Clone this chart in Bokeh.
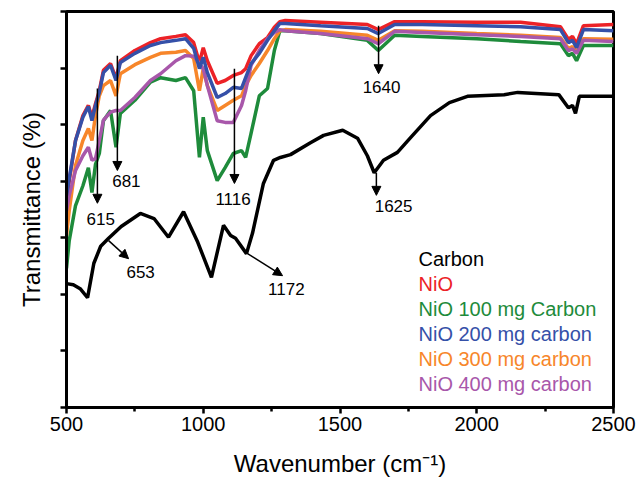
from bokeh.plotting import figure
from bokeh.models import Range1d, FixedTicker, Arrow, NormalHead, ColumnDataSource
from bokeh.core.properties import value
from bokeh.embed import file_html
from bokeh.resources import INLINE

# ---------------- data ----------------
wavenumber = [500, 510, 533, 560, 580, 593, 606, 620, 635, 661, 681, 697, 750, 807, 844,
              900, 935, 965, 986, 1000, 1015, 1051, 1080, 1110, 1140, 1155, 1175, 1205,
              1235, 1260, 1280, 1300, 1429, 1600, 1640, 1700, 1800, 2000, 2160, 2306,
              2335, 2350, 2365, 2390, 2500]

nio = [3.66, 4.01, 4.72, 5.16, 5.34, 5.13, 5.37, 5.60, 5.96, 6.08, 5.82, 6.13, 6.31, 6.45, 6.52,
       6.56, 6.59, 6.45, 6.10, 6.36, 6.13, 5.73, 5.78, 5.87, 5.92, 5.99, 6.22, 6.43,
       6.54, 6.72, 6.82, 6.84, 6.81, 6.77, 6.68, 6.82, 6.82, 6.81, 6.81, 6.73,
       6.51, 6.56, 6.43, 6.75, 6.77]

nio_100 = [2.46, 2.95, 3.57, 3.92, 4.24, 3.80, 4.30, 4.49, 5.07, 5.25, 4.60, 5.20, 5.43, 5.75, 5.83,
           5.78, 5.83, 5.60, 4.42, 5.13, 4.54, 4.01, 4.24, 4.49, 4.54, 4.42, 4.85, 5.51,
           5.64, 6.31, 6.66, 6.66, 6.61, 6.49, 6.31, 6.58, 6.56, 6.52, 6.47, 6.43,
           6.22, 6.26, 6.13, 6.40, 6.40]

nio_200 = [3.75, 4.05, 4.72, 5.13, 5.32, 5.07, 5.34, 5.57, 5.92, 6.05, 5.78, 6.10, 6.26, 6.40, 6.45,
           6.49, 6.52, 6.35, 5.99, 6.19, 5.92, 5.48, 5.55, 5.66, 5.64, 5.83, 6.08, 6.26,
           6.49, 6.66, 6.79, 6.79, 6.75, 6.70, 6.61, 6.77, 6.77, 6.75, 6.73, 6.68,
           6.45, 6.49, 6.36, 6.68, 6.66]

nio_300 = [3.04, 3.48, 4.28, 4.72, 4.93, 4.72, 5.16, 5.51, 5.69, 5.78, 5.51, 5.90, 6.06, 6.19, 6.26,
           6.28, 6.31, 6.17, 5.60, 5.99, 5.69, 5.25, 5.34, 5.43, 5.51, 5.69, 5.87, 6.08,
           6.31, 6.52, 6.66, 6.68, 6.65, 6.58, 6.49, 6.66, 6.65, 6.61, 6.58, 6.54,
           6.35, 6.38, 6.29, 6.52, 6.51]

nio_400 = [3.48, 3.75, 4.19, 4.45, 4.60, 4.37, 4.40, 4.72, 5.08, 5.22, 5.25, 5.25, 5.48, 5.78, 5.90,
           6.13, 6.22, 6.21, 6.08, 5.99, 5.69, 5.07, 5.04, 5.04, 5.34, 5.60, 6.05, 6.31,
           6.52, 6.63, 6.68, 6.66, 6.61, 6.52, 6.43, 6.65, 6.63, 6.59, 6.56, 6.52,
           6.31, 6.34, 6.26, 6.49, 6.47]

carbon_wn = [500, 525, 550, 577, 600, 625, 654, 700, 770, 820, 873, 928, 980, 1030, 1074,
             1100, 1118, 1158, 1180, 1220, 1257, 1282, 1319, 1392, 1440, 1510, 1564, 1600,
             1625, 1659, 1710, 1758, 1831, 1900, 1966, 2100, 2150, 2300, 2335, 2350, 2361,
             2375, 2500]
carbon = [2.19, 2.17, 2.10, 1.94, 2.55, 2.85, 2.99, 3.20, 3.43, 3.34, 3.01, 3.46, 2.92, 2.30, 3.22,
          3.04, 2.99, 2.72, 3.08, 3.96, 4.37, 4.42, 4.47, 4.68, 4.81, 4.90, 4.76, 4.45,
          4.15, 4.37, 4.51, 4.77, 5.16, 5.39, 5.50, 5.53, 5.57, 5.53, 5.30, 5.34, 5.20,
          5.50, 5.50]

legend_labels = ["Carbon", "NiO", "NiO 100 mg Carbon", "NiO 200 mg carbon",
                 "NiO 300 mg carbon", "NiO 400 mg carbon"]
colors = ["#000000", "#EC2227", "#1E8B3B", "#3550A8", "#F7862A", "#A857AA"]

# peak annotations: label, arrow start (x, y), arrow end (x, y), label position (x, y)
peak_labels = ["615", "681", "1116", "1640", "1625", "653", "1172"]
arrow_x0 = [613, 686, 1114, 1641, 1633, 654, 1162]
arrow_y0 = [5.64, 6.22, 5.99, 6.75, 4.15, 2.95, 2.72]
arrow_x1 = [613, 686, 1114, 1641, 1633, 727, 1290]
arrow_y1 = [3.61, 4.19, 3.96, 5.90, 3.75, 2.63, 2.33]
label_x = [625, 719, 1109, 1652, 1696, 771, 1304]
label_y = [3.34, 4.01, 3.69, 5.67, 3.57, 2.40, 2.10]

x_ticks = [500, 1000, 1500, 2000, 2500]
y_ticks = [0, 1, 2, 3, 4, 5, 6, 7]

# ---------------- figure ----------------
FONT = "Liberation Sans"
p = figure(width=640, height=482, output_backend="svg", toolbar_location=None,
           x_range=Range1d(500, 2500), y_range=Range1d(0, 7),
           min_border_left=66, min_border_right=27, min_border_top=11, min_border_bottom=75)
p.background_fill_color = "white"
p.border_fill_color = "white"
p.grid.visible = False
p.outline_line_color = "black"
p.outline_line_width = 3

p.xaxis.ticker = FixedTicker(ticks=x_ticks, minor_ticks=[750, 1250, 1750, 2250])
p.yaxis.ticker = FixedTicker(ticks=y_ticks, minor_ticks=[])
for ax in (p.xaxis, p.yaxis):
    ax.axis_line_width = 3
    ax.major_tick_line_width = 2.5
    ax.minor_tick_line_width = 2.5
    ax.major_tick_in = 0
    ax.major_tick_out = 6
    ax.minor_tick_in = 0
    ax.minor_tick_out = 4
    ax.axis_label_text_font = FONT
    ax.axis_label_text_font_style = "normal"
    ax.axis_label_text_font_size = "24px"
    ax.major_label_text_font = FONT
    ax.major_label_text_font_size = "20px"
    ax.major_label_text_color = "black"
    ax.axis_label_text_color = "black"

p.xaxis.axis_label = "Wavenumber (cm\u207b\u00b9)"
p.xaxis.major_label_standoff = 3
p.xaxis.axis_label_standoff = 16
p.yaxis.axis_label = "Transmittance (%)"
p.yaxis.major_label_overrides = {t: "" for t in y_ticks}
p.yaxis.major_label_standoff = 0
p.yaxis.axis_label_standoff = 16

# curves
p.line(carbon_wn, carbon, line_color=colors[0], line_width=3.5)
series = [nio, nio_100, nio_300, nio_400, nio_200]
series_colors = [colors[1], colors[2], colors[4], colors[5], colors[3]]
for s, c in zip(series, series_colors):
    p.line(wavenumber, s, line_color=c, line_width=3.5)

# arrows
for x0, y0, x1, y1 in zip(arrow_x0, arrow_y0, arrow_x1, arrow_y1):
    p.add_layout(Arrow(end=NormalHead(size=9, fill_color="black", line_color="black", line_width=1),
                       x_start=x0, y_start=y0, x_end=x1, y_end=y1,
                       line_color="black", line_width=1.5))

p.text(x=label_x, y=label_y, text=peak_labels, text_font=value(FONT),
       text_font_size="17px", text_align="center", text_baseline="middle", text_color="black")

# legend as coloured text
leg_x0 = 1787
leg_y0 = 2.63
leg_step = 0.443
leg_src = ColumnDataSource(dict(
    x=[leg_x0] * len(legend_labels),
    y=[leg_y0 - i * leg_step for i in range(len(legend_labels))],
    t=legend_labels, c=colors))
p.text(x="x", y="y", text="t", text_color="c", source=leg_src, text_font=value(FONT),
       text_font_size="20px", text_align="left", text_baseline="middle")

open("out.html", "w").write(file_html(p, INLINE))
